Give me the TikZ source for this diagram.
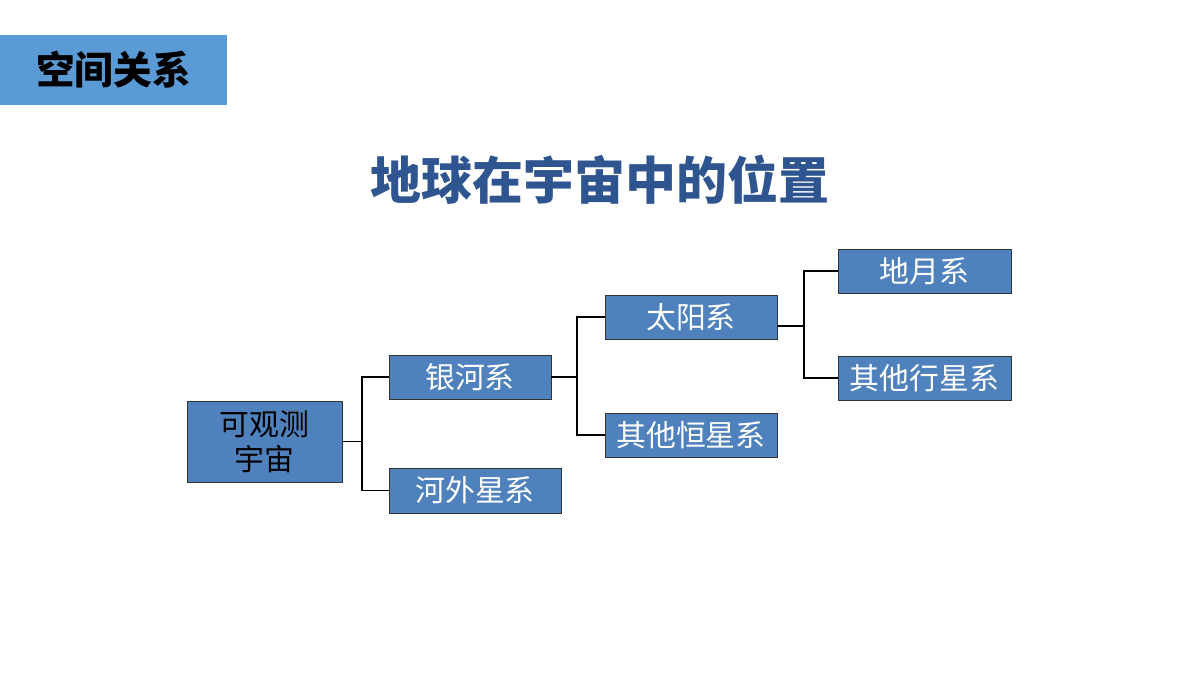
\documentclass[tikz,border=0pt]{standalone}
\usepackage{fontspec}
\newfontfamily\cjk{Noto Sans CJK SC}
\usetikzlibrary{positioning,calc}
\definecolor{boxblue}{HTML}{4F81BD}
\definecolor{headblue}{HTML}{5B9BD5}
\definecolor{titleblue}{HTML}{2F5590}
\begin{document}
\begin{tikzpicture}
[x=0.02cm,y=-0.02cm,
block/.style={draw=black!80,fill=boxblue,text=white,font=\cjk\fontsize{17}{20}\selectfont,inner sep=0pt,align=center},
edge/.style={line width=.9pt}]
\useasboundingbox (0,0) rectangle (1200,675);
\node (head) [fill=headblue,minimum width=4.54cm,minimum height=1.4cm,font=\cjk\bfseries\fontsize{22}{24}\selectfont] at (113.5,70) {空间关系};
\node (title) [text=titleblue,font=\cjk\bfseries\fontsize{29}{32}\selectfont] at (600,180) {地球在宇宙中的位置};
%%
\node (univ) [block,text=black,minimum width=3.1cm,minimum height=1.62cm] at (264.5,441.5) {可观测\\宇宙};
\node (milky) [block,minimum width=3.24cm,minimum height=.88cm] at (470,377) {银河系};
\node (extra) [block,minimum width=3.44cm,minimum height=.9cm] at (475,490.5) {河外星系};
\node (solar) [block,minimum width=3.44cm,minimum height=.88cm] at (691,317) {太阳系};
\node (stars) [block,minimum width=3.44cm,minimum height=.88cm] at (691,435) {其他恒星系};
\node (earth) [block,minimum width=3.46cm,minimum height=.88cm] at (924.5,271) {地月系};
\node (plan) [block,minimum width=3.46cm,minimum height=.88cm] at (924.5,378) {其他行星系};
%%
\coordinate (j1) at (362,441.5);
\coordinate (j2) at (577,377);
\coordinate (j3) at (804,326);
\draw[edge] (univ.east) -- (j1);
\draw[edge] (milky.west) -| (j1) |- (extra.west);
\draw[edge] (milky.east) -- (j2);
\draw[edge] (solar.west) -| (j2) |- (stars.west);
\draw[edge] (solar.east |- j3) -- (j3);
\draw[edge] (earth.west) -| (j3) |- (plan.west);
\end{tikzpicture}
\end{document}
